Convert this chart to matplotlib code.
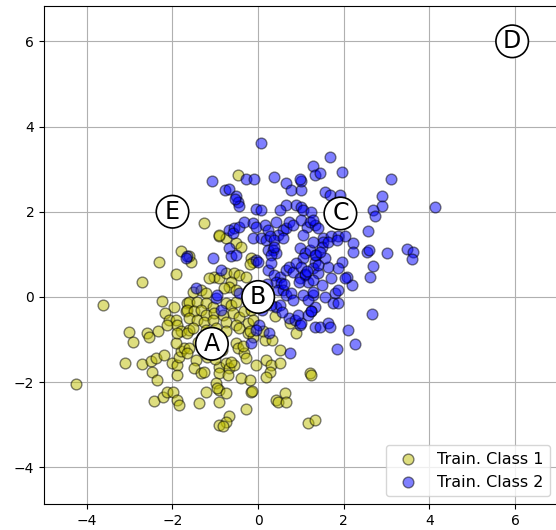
import numpy as np
import matplotlib
matplotlib.use("Agg")
import matplotlib.pyplot as plt

# Train class 1 (yellow)
class1_x = [
    -4.25, -3.62, -3.02, -2.92, -3.12, -2.72, -2.71, -2.32, -1.92, -1.81,
    -2.25, -1.96, -2.18, -2.08, -1.92, -2.59, -2.33, -2.55, -1.65, -1.69,
    -2.12, -1.89, -1.81, -1.61, -2.51, -2.39, -2.20, -2.47, -2.37, -2.43,
    -2.22, -2.12, -1.99, -1.89, -1.85, -2.00, -1.89, -1.85, -1.81, -1.73,
    -1.92, -1.89, -1.65, -1.89,
    -1.61, -1.65, -1.46, -1.50, -1.34, -1.26, -0.91, -0.91, -0.75, -0.67,
    -0.71, -0.56, -0.63, -0.52, -0.48, -0.32, -0.28, -0.36, -0.24, -0.12,
    0.15, 0.33, -0.05, 0.19, 0.31, 0.27, 0.19, 0.50, 0.50, 0.89,
    -0.40, -0.20, 1.20, 1.24, -0.99, -0.91, -0.95, -0.75, -1.22, -1.38,
    -0.91, -0.16, -0.14, -0.28, -0.67, -0.75, -0.91, -0.83, 0.42, 0.46,
    0.62, 0.66, 1.17, 1.32,
    -1.30, -1.40, -0.85, -0.90, -1.20, -1.00,
    -1.57, -1.61, -0.91, -0.75, -0.52, -0.40, -0.16, -0.12, -1.03, -0.91,
    -0.75, -0.56, -0.44, -0.28, -0.63, -1.14, -0.67, -0.52, -0.79, -1.53,
    -1.34, -1.22, -1.61, -1.42, -1.22, -1.06, -0.75, -0.63, -0.52, -1.65,
    -1.50, -1.34, -1.22, -1.03, -0.83, -0.59, -0.44, -0.32, -0.16, -1.61,
    -1.42, -1.26, -1.06, -0.75, -0.52, -0.24, -0.12, -1.53, -1.22, -0.99,
    -0.75, -0.44, -0.20, 0.11,
    -1.26, -0.92, -0.48, -0.20, 0.75, 0.40,
]
class1_y = [
    -2.04, -0.20, -0.83, -1.05, -1.56, -1.58, 0.34, 0.83, 0.54, 1.09,
    -0.09, -0.23, -0.37, -0.54, -0.54, -0.84, -0.81, -0.95, -0.15, -0.34,
    -0.66, -0.66, -0.81, -0.77, -1.50, -1.44, -1.36, -1.75, -1.96, -2.44,
    -2.35, -2.22, -2.24, -2.42, -2.54, -1.55, -1.60, -1.40, -1.28, -1.20,
    -1.09, -0.85, -0.85, -1.83,
    -1.20, -1.32, -1.48, -1.67, -1.79, -1.75, -1.64, -1.79, -1.56, -1.67,
    -1.83, -1.60, -1.52, -1.09, -1.20, -1.32, -1.44, -1.16, -0.85, -0.93,
    -1.01, -1.01, -1.60, -1.48, -1.60, -1.75, -1.87, -1.56, -1.24, -0.85,
    -1.91, -1.95, -1.79, -1.83, -2.03, -2.18, -2.14, -2.26, -2.22, -2.50,
    -2.46, -2.22, -2.20, -2.64, -2.79, -2.93, -3.00, -3.03, -2.42, -2.46,
    -2.26, -2.46, -2.96, -2.89,
    -0.95, -1.05, -1.25, -1.00, -1.40, -1.45,
    0.83, 0.95, 1.42, 1.38, 1.26, 1.18, 0.91, 0.83, 0.48, 0.44,
    0.56, 0.56, 0.52, 0.48, 0.36, 0.44, 0.24, 0.16, 0.20, 0.12,
    0.16, 0.09, -0.11, -0.11, -0.15, -0.23, -0.15, -0.19, -0.11, -0.30,
    -0.34, -0.30, -0.42, -0.38, -0.42, -0.38, -0.46, -0.34, -0.30, -0.50,
    -0.54, -0.58, -0.54, -0.58, -0.66, -0.62, -0.54, -0.73, -0.77, -0.73,
    -0.81, -0.73, -0.81, -0.81,
    1.73, 1.46, 2.86, 0.77, -0.60, -0.45,
]

# Train class 2 (blue)
class2_x = [
    0.07, -1.08, -0.28, -0.10, 0.38, -0.77, -0.69, -0.52, -0.48, -0.45,
    -0.53, -0.05, 0.07, 0.66, 0.77, 1.01, 1.01, 0.97, 0.66, 0.50,
    0.89, 1.01, 1.05, 1.28, 1.32,
    -0.67, -0.56, -0.59, -0.44, -0.32, -0.12, -0.05, 0.15, 0.23, 0.42,
    0.58, 0.66, 0.73, 0.81, 1.01, 1.13, 1.20, 1.32, 1.05, 0.46,
    1.67, 1.44, 1.95, 3.10, 1.56, 1.67, 1.91, 2.90, 2.89, 2.69,
    2.72, 4.12, 2.56, 1.24, 1.28, 1.40, 1.52, 1.71, 1.87, 2.03,
    1.52, 1.48, 1.64, 1.83, 2.22, 2.22, 2.54, 2.59, 3.00, 3.47,
    3.61, 3.59, 2.68, 2.61, 2.18, 2.07, 2.03, 1.95, 1.87, 1.71,
    1.64, 1.56, 1.36, 1.32, 1.28, 1.40, 1.48, 1.28, 1.56, 1.79,
    1.87, 1.75, 1.87, 1.32, 1.24, 2.65, 1.32, 1.44, 1.64, 1.67,
    2.09, 1.85, 2.26,
    -1.65, -1.69, -1.06, -0.67, -0.63, -0.52, -0.87, -0.12, 0.07, 0.19,
    0.27, 0.38, 0.58, -0.05, 0.00, 0.23, 0.34, 0.42, 0.31, 0.38,
    0.23, 0.38, 0.50, 0.42, 0.54, 0.46, 0.58, 0.66, 0.73, 0.81,
    0.97, 1.09, 1.05, 1.20, 1.28, 1.32, 0.89, 1.01, 0.97, 1.09,
    1.17, 1.28, 0.66, 0.77, 0.81, 1.05, 1.17, 1.28, 0.42, 0.50,
    0.31, 0.73, 0.85, 0.97, 1.01, 0.93, 1.17, 1.24, 0.03, -0.05,
    -0.99, -0.95, -0.87, -0.44, -1.46,
    0.25, -0.16, 0.75,
    1.10, 1.15, 0.95, 1.40, 1.45, 0.60, 0.30, 0.20, 0.10, 0.20,
    0.10, 0.55,
]
class2_y = [
    3.62, 2.71, 2.76, 2.76, 2.82, 2.51, 2.53, 2.37, 2.24, 2.14,
    2.29, 2.06, 2.04, 2.67, 2.51, 2.51, 2.71, 2.76, 2.16, 2.04,
    2.16, 2.12, 2.04, 3.07, 2.86,
    1.57, 1.61, 1.51, 1.65, 1.75, 1.73, 1.64, 1.69, 1.57, 1.77,
    1.57, 1.61, 1.77, 1.69, 1.81, 1.65, 1.77, 1.69, 1.46, 1.46,
    3.29, 2.90, 2.93, 2.76, 2.47, 2.39, 2.39, 2.36, 2.14, 2.03,
    1.89, 2.12, 1.55, 2.00, 1.81, 1.61, 1.38, 1.42, 1.42, 1.42,
    1.30, 1.18, 1.30, 1.34, 1.26, 1.06, 1.06, 1.10, 1.03, 1.13,
    1.06, 0.89, 0.73, 0.48, 0.28, 0.48, 0.44, 0.83, 0.67, 0.44,
    0.71, 0.91, 0.99, 0.83, 0.67, 0.56, 0.28, 0.05, 0.01, 0.09,
    0.16, -0.15, -0.15, -0.23, -0.34, -0.40, -0.70, -0.70, -0.62, -0.70,
    -0.77, -1.23, -1.10,
    0.95, 0.92, 0.91, 1.14, 0.95, 0.99, 0.63, 1.38, 1.38, 1.34,
    1.42, 1.34, 1.38, 0.87, 0.83, 1.10, 1.10, 1.03, 0.99, 1.18,
    0.63, 0.52, 0.48, 0.36, 0.32, 0.16, 0.16, 0.63, 0.71, 0.59,
    1.14, 1.03, 0.91, 1.10, 1.30, 0.99, 0.79, 0.71, 0.44, 0.52,
    0.36, 0.40, 0.05, 0.09, -0.07, 0.05, -0.07, 0.12, -0.23, -0.19,
    -0.19, -0.50, -0.54, -0.66, -0.62, -0.42, -0.42, -0.34, -0.66, -0.77,
    -0.03, 0.05, -0.30, 0.09, 0.20,
    -0.84, -1.07, -1.32,
    0.55, 0.60, 0.35, 0.75, 1.05, 0.30, 0.80, 0.30, 0.20, 0.00,
    -0.30, -0.35,
]

# labelled query points
point_names = ["A", "B", "C", "D", "E"]
point_x = [-1.08, 0.0, 1.92, 5.93, -2.0]
point_y = [-1.1, 0.0, 1.96, 6.0, 2.0]

fig = plt.figure(figsize=(5.56, 5.30), dpi=100)
ax = fig.add_axes([44 / 556, 26 / 530, 514 / 556, 497.6 / 530])

ax.scatter(class1_x, class1_y, s=60, c="y", alpha=0.5, edgecolors="k",
           linewidths=1.0, label="Train. Class 1", zorder=3)
ax.scatter(class2_x, class2_y, s=60, c="b", alpha=0.5, edgecolors="k",
           linewidths=1.0, label="Train. Class 2", zorder=3)

for name, px, py in zip(point_names, point_x, point_y):
    ax.text(px, py, name, fontsize=17, ha="center", va="center", zorder=5,
            bbox=dict(boxstyle="circle,pad=0.18", fc="white", ec="black",
                      lw=1.2))

ax.set_xlim(-5, 7)
ax.set_ylim(-4.86, 6.82)
ax.set_xticks([-4, -2, 0, 2, 4, 6])
ax.set_yticks([-4, -2, 0, 2, 4, 6])
ax.tick_params(labelsize=10)
ax.grid(True, color="#b0b0b0", lw=0.8, zorder=0)
ax.set_axisbelow(True)
ax.legend(loc="lower right", fontsize=11.5)

fig.savefig("out.png", dpi=100)
